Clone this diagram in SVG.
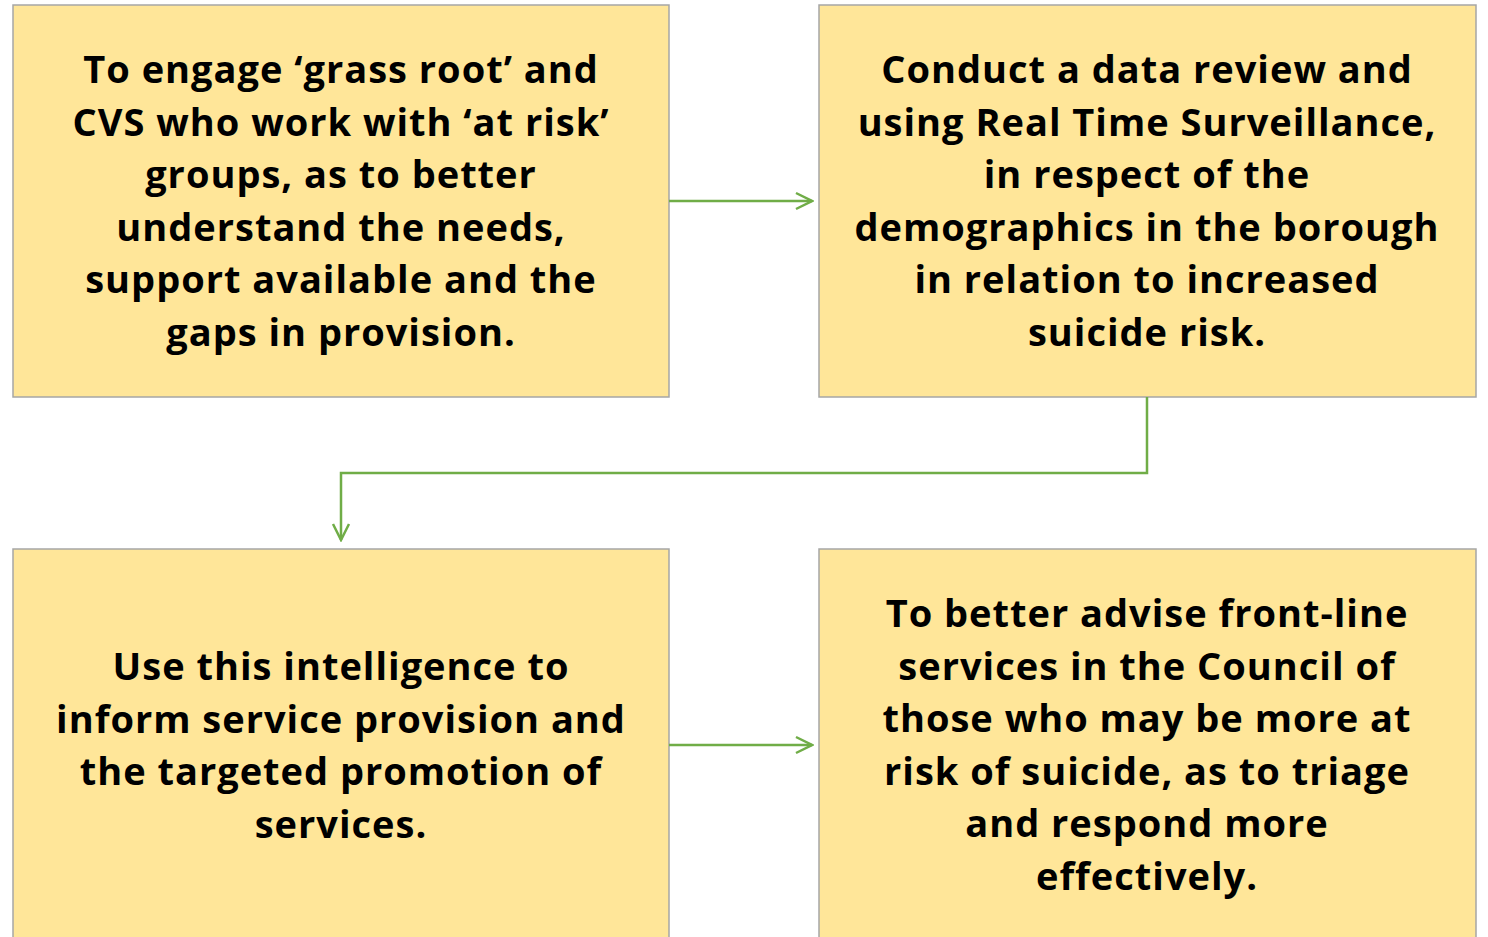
<svg xmlns="http://www.w3.org/2000/svg" width="1488" height="937" viewBox="0 0 1488 937">
<style>
.box{fill:#FFE699;stroke:#A6A6A6;stroke-width:1.5}
.t{font-family:"Open Sans","Liberation Sans",sans-serif;font-weight:bold;font-size:38px;letter-spacing:1px;fill:#000;text-anchor:middle}
.c{fill:none;stroke:#70AD47;stroke-width:2.5}
</style>
<defs>
<marker id="ah" viewBox="0 0 20 20" refX="18" refY="10" markerWidth="20" markerHeight="20" markerUnits="userSpaceOnUse" orient="auto">
<path d="M2,2 L18,10 L2,18" fill="none" stroke="#70AD47" stroke-width="2.5"/>
</marker>
</defs>
<rect width="1488" height="937" fill="#fff"/>
<g id="n1">
<rect class="box" x="13" y="5" width="656" height="392"/>
<text class="t"><tspan x="341" y="83">To engage ‘grass root’ and</tspan><tspan x="341" y="135.6">CVS who work with ‘at risk’</tspan><tspan x="341" y="188.2">groups, as to better</tspan><tspan x="341" y="240.8">understand the needs,</tspan><tspan x="341" y="293.4">support available and the</tspan><tspan x="341" y="346">gaps in provision.</tspan></text>
</g>
<g id="n2">
<rect class="box" x="819" y="5" width="657" height="392"/>
<text class="t"><tspan x="1147" y="83">Conduct a data review and</tspan><tspan x="1147" y="135.6">using Real Time Surveillance,</tspan><tspan x="1147" y="188.2">in respect of the</tspan><tspan x="1147" y="240.8">demographics in the borough</tspan><tspan x="1147" y="293.4">in relation to increased</tspan><tspan x="1147" y="346">suicide risk.</tspan></text>
</g>
<g id="n3">
<rect class="box" x="13" y="549" width="656" height="400"/>
<text class="t"><tspan x="341" y="680">Use this intelligence to</tspan><tspan x="341" y="732.6">inform service provision and</tspan><tspan x="341" y="785.2">the targeted promotion of</tspan><tspan x="341" y="837.8">services.</tspan></text>
</g>
<g id="n4">
<rect class="box" x="819" y="549" width="657" height="400"/>
<text class="t"><tspan x="1147" y="627">To better advise front-line</tspan><tspan x="1147" y="679.6">services in the Council of</tspan><tspan x="1147" y="732.2">those who may be more at</tspan><tspan x="1147" y="784.8">risk of suicide, as to triage</tspan><tspan x="1147" y="837.4">and respond more</tspan><tspan x="1147" y="890">effectively.</tspan></text>
</g>
<g id="connectors">
<path class="c" d="M669,201 H812" marker-end="url(#ah)"/>
<path class="c" d="M1147,397 V473 H341 V540" marker-end="url(#ah)"/>
<path class="c" d="M669,745 H812" marker-end="url(#ah)"/>
</g>
</svg>
